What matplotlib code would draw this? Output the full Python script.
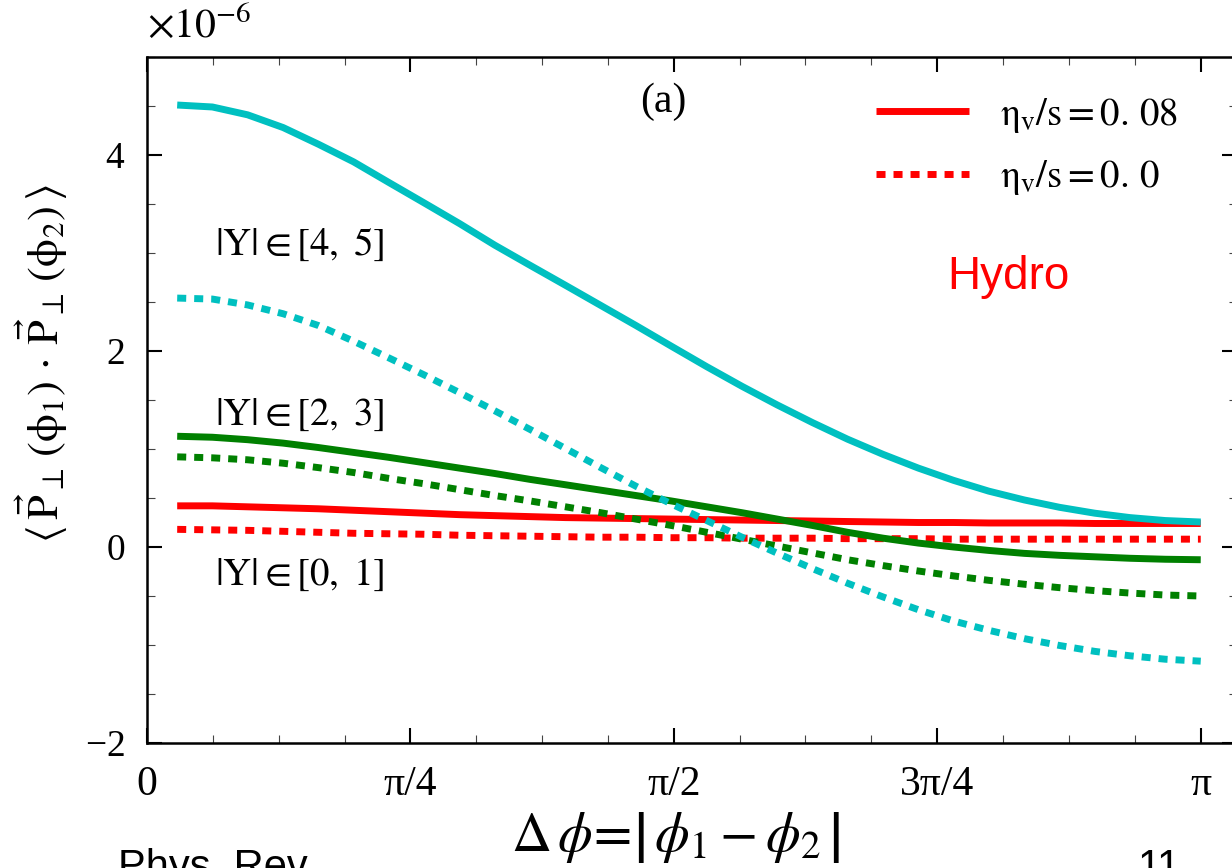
import numpy as np
import matplotlib
matplotlib.use("Agg")
import matplotlib.pyplot as plt
from matplotlib.ticker import FixedLocator, MultipleLocator, ScalarFormatter

plt.rcParams['font.family'] = ['Liberation Serif', 'DejaVu Serif']
plt.rcParams['mathtext.fontset'] = 'stix'

# Azimuthal separation (rad) and correlations in units of 1e-6
dphi = [0.090, 0.195, 0.300, 0.406, 0.511, 0.616, 0.721, 0.827, 0.932, 1.037,
        1.142, 1.248, 1.353, 1.458, 1.563, 1.669, 1.774, 1.879, 1.984, 2.089,
        2.195, 2.300, 2.405, 2.510, 2.616, 2.721, 2.826, 2.931, 3.036, 3.142]

y45_visc = [4.51, 4.49, 4.41, 4.28, 4.11, 3.93, 3.72, 3.51, 3.30, 3.08,
            2.875, 2.67, 2.465, 2.26, 2.05, 1.84, 1.64, 1.45, 1.27, 1.10,
            0.945, 0.805, 0.68, 0.57, 0.48, 0.405, 0.345, 0.30, 0.27, 0.255]
y45_ideal = [2.54, 2.53, 2.47, 2.38, 2.26, 2.10, 1.93, 1.755, 1.575, 1.39,
             1.20, 1.005, 0.81, 0.62, 0.44, 0.27, 0.10, -0.063, -0.22, -0.37,
             -0.51, -0.64, -0.755, -0.85, -0.935, -1.005, -1.065, -1.11, -1.145, -1.165]
y23_visc = [1.13, 1.12, 1.095, 1.06, 1.015, 0.965, 0.915, 0.86, 0.805, 0.75,
            0.69, 0.635, 0.58, 0.525, 0.47, 0.41, 0.35, 0.285, 0.22, 0.15,
            0.09, 0.04, 0.0, -0.035, -0.065, -0.085, -0.10, -0.115, -0.125, -0.13]
y23_ideal = [0.92, 0.91, 0.89, 0.855, 0.81, 0.76, 0.70, 0.645, 0.585, 0.525,
             0.47, 0.41, 0.35, 0.285, 0.22, 0.15, 0.08, 0.01, -0.06, -0.13,
             -0.19, -0.245, -0.295, -0.34, -0.38, -0.415, -0.445, -0.47, -0.49, -0.50]
y01_visc = [0.42, 0.42, 0.41, 0.40, 0.39, 0.375, 0.36, 0.345, 0.33, 0.32,
            0.31, 0.30, 0.295, 0.29, 0.285, 0.28, 0.275, 0.27, 0.265, 0.26,
            0.255, 0.25, 0.25, 0.245, 0.245, 0.245, 0.24, 0.24, 0.24, 0.24]
y01_ideal = [0.18, 0.175, 0.17, 0.16, 0.15, 0.14, 0.135, 0.13, 0.12, 0.115,
             0.11, 0.105, 0.10, 0.10, 0.095, 0.095, 0.09, 0.09, 0.09, 0.085,
             0.085, 0.085, 0.08, 0.08, 0.08, 0.08, 0.08, 0.08, 0.08, 0.08]

SCALE = 1e-6

xtick_vals = [0, np.pi / 4, np.pi / 2, 3 * np.pi / 4, np.pi]
xtick_labels = ['0', 'π/4', 'π/2', '3π/4', 'π']

RED = '#ff0000'
GREEN = '#008000'
CYAN = '#00c0c0'
LW = 5.0
DOT = (0, (1.3, 1.15))

fig = plt.figure(figsize=(12.32, 8.68), dpi=100)
ax = fig.add_axes([0.11932, 0.14401, 0.8847, 0.79032])

x = np.array(dphi)
kw = dict(lw=LW, solid_capstyle='butt', dash_capstyle='butt', solid_joinstyle='round')
l1, = ax.plot(x, np.array(y01_visc) * SCALE, color=RED, ls='-', **kw)
l2, = ax.plot(x, np.array(y01_ideal) * SCALE, color=RED, ls=DOT, **kw)
ax.plot(x, np.array(y23_visc) * SCALE, color=GREEN, ls='-', **kw)
ax.plot(x, np.array(y23_ideal) * SCALE, color=GREEN, ls=DOT, **kw)
ax.plot(x, np.array(y45_visc) * SCALE, color=CYAN, ls='-', **kw)
ax.plot(x, np.array(y45_ideal) * SCALE, color=CYAN, ls=DOT, **kw)

ax.set_xlim(0, 3.25)
ax.set_ylim(-2e-6, 5e-6)

ax.xaxis.set_major_locator(FixedLocator(xtick_vals))
ax.xaxis.set_minor_locator(MultipleLocator(np.pi / 16))
ax.set_xticklabels(xtick_labels)
ax.yaxis.set_major_locator(MultipleLocator(2e-6))
ax.yaxis.set_minor_locator(MultipleLocator(0.5e-6))
fmt = ScalarFormatter(useMathText=True)
fmt.set_powerlimits((0, 0))
ax.yaxis.set_major_formatter(fmt)
ax.yaxis.get_offset_text().set_visible(False)
ax.text(0.0, 1.016, r'$\times\mathrm{10}^{-6}$', transform=ax.transAxes, fontsize=30,
        ha='left', va='bottom')

for s in ax.spines.values():
    s.set_linewidth(1.8)
ax.tick_params(which='both', direction='in', top=True, right=True)
ax.tick_params(which='major', length=11, width=1.5)
ax.tick_params(which='minor', length=5.5, width=0.8, color='#444444')
ax.tick_params(axis='x', which='major', labelsize=30, pad=16)
ax.tick_params(axis='y', which='major', labelsize=27, pad=16)

ax.set_ylabel(r'$\langle\,\vec{\mathrm{P}}_{\perp}\,(\mathrm{\phi}_1)\,\cdot\,'
              r'\vec{\mathrm{P}}_{\perp}\,(\mathrm{\phi}_2)\,\rangle$', fontsize=32)
ax.yaxis.set_label_coords(-0.0706, 0.553)

fig.text(0.548, 0.035, r'$\Delta\,\phi\!=\!\left|\,\phi_1 - \phi_2\,\right|$', fontsize=40,
         ha='center', va='center')

tkw = dict(transform=ax.transAxes, fontsize=28, ha='left', va='center')
ax.text(0.0624, 0.7259, r'$\mathrm{|Y|}\in\mathrm{[4,\ 5]}$', **tkw)
ax.text(0.0624, 0.4781, r'$\mathrm{|Y|}\in\mathrm{[2,\ 3]}$', **tkw)
ax.text(0.0624, 0.2449, r'$\mathrm{|Y|}\in\mathrm{[0,\ 1]}$', **tkw)
ax.text(0.4734, 0.9344, '(a)', transform=ax.transAxes, fontsize=30, ha='center', va='center')
ax.text(0.7899, 0.6793, 'Hydro', transform=ax.transAxes, fontsize=33, color=RED,
        family='Liberation Sans', ha='center', va='center')

ax.legend([l1, l2],
          [r'$\mathrm{\eta_{v}/s = 0.\,08}$', r'$\mathrm{\eta_{v}/s = 0.\,0}$'],
          loc='upper left', bbox_to_anchor=(0.6688, 0.943), frameon=False, fontsize=28,
          handlelength=2.4, handletextpad=0.8, labelspacing=0.6, borderpad=0, borderaxespad=0)

fig.text(0.096, 1 - 848 / 868, 'Phys. Rev.', fontsize=30, family='Liberation Sans',
         ha='left', va='top')
fig.text(0.924, 1 - 848 / 868, '11', fontsize=30, family='Liberation Sans', ha='left', va='top')

fig.savefig('out.png', dpi=100)
